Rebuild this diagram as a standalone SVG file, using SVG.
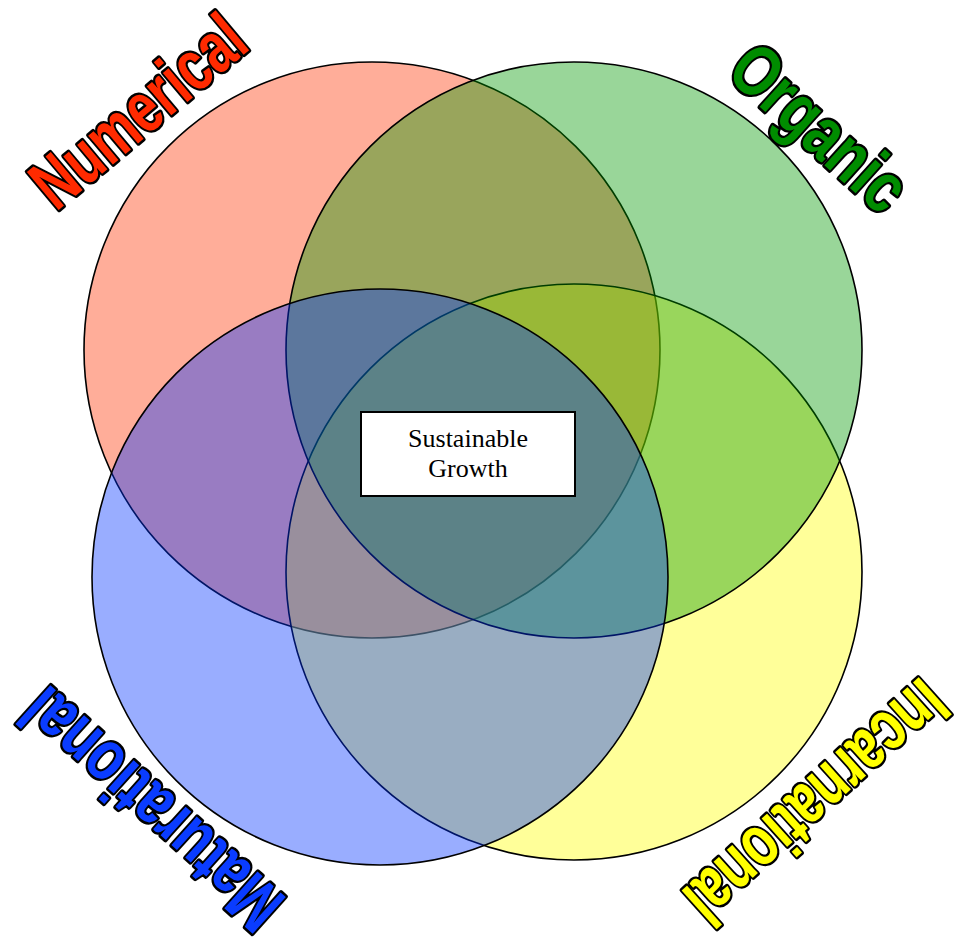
<svg xmlns="http://www.w3.org/2000/svg" width="962" height="942" viewBox="0 0 962 942">
<style>
.c{stroke:#000;stroke-width:1.6;fill-opacity:0.4}
.lbl{font-family:"Liberation Sans",Arial,sans-serif;font-weight:bold;font-size:72px;stroke:#000;stroke-width:5;stroke-linejoin:round;paint-order:stroke}
.ct{font-family:"Liberation Serif","Times New Roman",serif;font-size:26px;fill:#000}
</style>
<rect width="962" height="942" fill="#fff"/>
<g id="circle-numerical"><circle class="c" cx="372" cy="350" r="288" fill="#FF3300"/></g>
<g id="circle-incarnational"><circle class="c" cx="574" cy="572" r="288" fill="#FFFF00"/></g>
<g id="circle-organic"><circle class="c" cx="574" cy="350" r="288" fill="#009900"/></g>
<g id="circle-maturational"><circle class="c" cx="380" cy="577" r="288" fill="#0033FF"/></g>
<g id="center">
<rect x="361" y="412" width="214" height="84" fill="#fff" stroke="#000" stroke-width="2"/>
<text class="ct" x="468" y="447" text-anchor="middle">Sustainable</text>
<text class="ct" x="468" y="477" text-anchor="middle">Growth</text>
</g>
<g id="label-numerical"><text class="lbl" fill="#FF2A00" x="154" y="130" text-anchor="middle" textLength="256" lengthAdjust="spacingAndGlyphs" transform="rotate(-40 154 130)">Numerical</text></g>
<g id="label-organic"><text class="lbl" fill="#008C00" x="803" y="146" text-anchor="middle" textLength="212" lengthAdjust="spacingAndGlyphs" transform="rotate(42 803 146)">Organic</text></g>
<g id="label-maturational"><text class="lbl" fill="#0A3CFF" x="168" y="791" text-anchor="middle" textLength="324" lengthAdjust="spacingAndGlyphs" transform="rotate(222 168 791)">Maturational</text></g>
<g id="label-incarnational"><text class="lbl" fill="#FFFF00" x="800" y="784" text-anchor="middle" textLength="326" lengthAdjust="spacingAndGlyphs" transform="rotate(138 800 784)">Incarnational</text></g>
</svg>
